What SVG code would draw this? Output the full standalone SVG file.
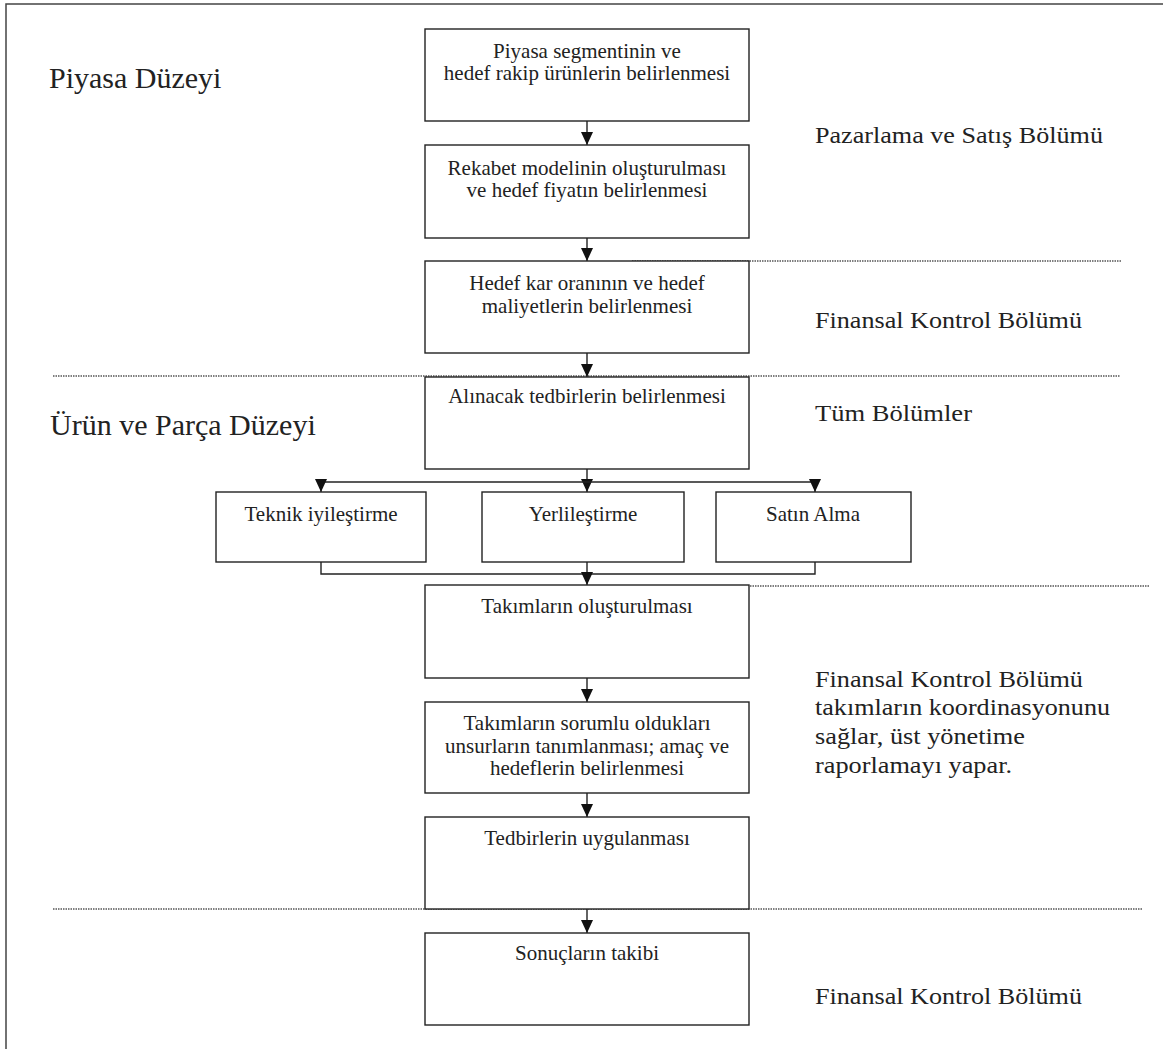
<svg xmlns="http://www.w3.org/2000/svg" width="1163" height="1049" viewBox="0 0 1163 1049">
<style>
.box{fill:#fff;stroke:#222;stroke-width:1.4}
.t{font-family:"Liberation Serif","Times New Roman",serif;font-size:21px;fill:#222;text-anchor:middle}
.lvl{font-family:"Liberation Serif","Times New Roman",serif;font-size:30px;fill:#222}
.dep{font-family:"Liberation Serif","Times New Roman",serif;font-size:23px;fill:#222}
.ln{fill:none;stroke:#222;stroke-width:1.4}
.dot{fill:none;stroke:#555;stroke-width:1.3;stroke-dasharray:1.5 1}
</style>
<defs>
<marker id="ah" viewBox="0 0 13 12" refX="13" refY="6" markerWidth="13" markerHeight="12" markerUnits="userSpaceOnUse" orient="auto">
<path d="M0,0 L13,6 L0,12 Z" fill="#111"/>
</marker>
</defs>
<rect width="1163" height="1049" fill="#fff"/>
<path d="M6,1049 V4 H1163" fill="none" stroke="#444" stroke-width="1.5"/>
<g id="dividers">
<line class="dot" x1="632" y1="261" x2="1122" y2="261"/>
<line class="dot" x1="53" y1="376" x2="1120" y2="376"/>
<line class="dot" x1="660" y1="586" x2="1150" y2="586"/>
<line class="dot" x1="53" y1="909" x2="1143" y2="909"/>
</g>
<g id="connectors">
<line class="ln" x1="587" y1="121" x2="587" y2="145" marker-end="url(#ah)"/>
<line class="ln" x1="587" y1="238" x2="587" y2="261" marker-end="url(#ah)"/>
<line class="ln" x1="587" y1="353" x2="587" y2="377" marker-end="url(#ah)"/>
<line class="ln" x1="587" y1="469" x2="587" y2="492" marker-end="url(#ah)"/>
<line class="ln" x1="321" y1="482" x2="815" y2="482"/>
<line class="ln" x1="321" y1="482" x2="321" y2="492" marker-end="url(#ah)"/>
<line class="ln" x1="815" y1="482" x2="815" y2="492" marker-end="url(#ah)"/>
<polyline class="ln" points="321,562 321,574 815,574 815,562"/>
<line class="ln" x1="587" y1="562" x2="587" y2="585" marker-end="url(#ah)"/>
<line class="ln" x1="587" y1="678" x2="587" y2="702" marker-end="url(#ah)"/>
<line class="ln" x1="587" y1="793" x2="587" y2="817" marker-end="url(#ah)"/>
<line class="ln" x1="587" y1="909" x2="587" y2="933" marker-end="url(#ah)"/>
</g>
<g id="n1"><rect class="box" x="425" y="29" width="324" height="92"/>
<text class="t" x="587" y="58">Piyasa segmentinin ve</text>
<text class="t" x="587" y="80">hedef rakip ürünlerin belirlenmesi</text></g>
<g id="n2"><rect class="box" x="425" y="145" width="324" height="93"/>
<text class="t" x="587" y="175">Rekabet modelinin oluşturulması</text>
<text class="t" x="587" y="197">ve hedef fiyatın belirlenmesi</text></g>
<g id="n3"><rect class="box" x="425" y="261" width="324" height="92"/>
<text class="t" x="587" y="290">Hedef kar oranının ve hedef</text>
<text class="t" x="587" y="313">maliyetlerin belirlenmesi</text></g>
<g id="n4"><rect class="box" x="425" y="377" width="324" height="92"/>
<text class="t" x="587" y="403">Alınacak tedbirlerin belirlenmesi</text></g>
<g id="n5"><rect class="box" x="216" y="492" width="210" height="70"/>
<text class="t" x="321" y="521">Teknik iyileştirme</text></g>
<g id="n6"><rect class="box" x="482" y="492" width="202" height="70"/>
<text class="t" x="583" y="521">Yerlileştirme</text></g>
<g id="n7"><rect class="box" x="716" y="492" width="195" height="70"/>
<text class="t" x="813" y="521">Satın Alma</text></g>
<g id="n8"><rect class="box" x="425" y="585" width="324" height="93"/>
<text class="t" x="587" y="613">Takımların oluşturulması</text></g>
<g id="n9"><rect class="box" x="425" y="702" width="324" height="91"/>
<text class="t" x="587" y="730">Takımların sorumlu oldukları</text>
<text class="t" x="587" y="753">unsurların tanımlanması; amaç ve</text>
<text class="t" x="587" y="775">hedeflerin belirlenmesi</text></g>
<g id="n10"><rect class="box" x="425" y="817" width="324" height="92"/>
<text class="t" x="587" y="845">Tedbirlerin uygulanması</text></g>
<g id="n11"><rect class="box" x="425" y="933" width="324" height="92"/>
<text class="t" x="587" y="960">Sonuçların takibi</text></g>
<g id="labels">
<text class="lvl" x="49" y="88">Piyasa Düzeyi</text>
<text class="lvl" x="50" y="435">Ürün ve Parça Düzeyi</text>
<text class="dep" x="815" y="143" textLength="288" lengthAdjust="spacingAndGlyphs">Pazarlama ve Satış Bölümü</text>
<text class="dep" x="815" y="328" textLength="267" lengthAdjust="spacingAndGlyphs">Finansal Kontrol Bölümü</text>
<text class="dep" x="815" y="421" textLength="157" lengthAdjust="spacingAndGlyphs">Tüm Bölümler</text>
<text class="dep" x="815" y="687" textLength="268" lengthAdjust="spacingAndGlyphs">Finansal Kontrol Bölümü</text>
<text class="dep" x="815" y="715" textLength="295" lengthAdjust="spacingAndGlyphs">takımların koordinasyonunu</text>
<text class="dep" x="815" y="744" textLength="210" lengthAdjust="spacingAndGlyphs">sağlar, üst yönetime</text>
<text class="dep" x="815" y="773" textLength="197" lengthAdjust="spacingAndGlyphs">raporlamayı yapar.</text>
<text class="dep" x="815" y="1004" textLength="267" lengthAdjust="spacingAndGlyphs">Finansal Kontrol Bölümü</text>
</g>
</svg>
